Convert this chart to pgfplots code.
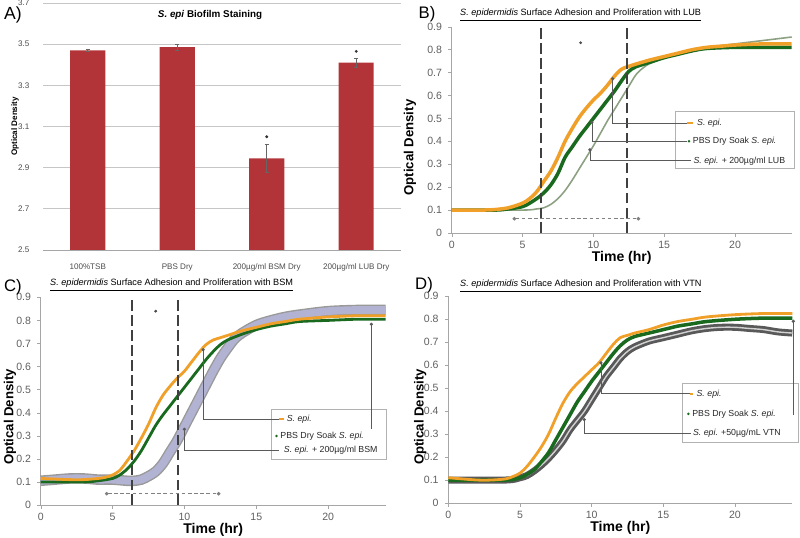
\documentclass[border=0pt]{standalone}
\usepackage{pgfplots}
\pgfplotsset{compat=1.18}
\usetikzlibrary{arrows.meta}
\usepackage{fontspec}
\setmainfont{Liberation Sans}

\definecolor{barred}{RGB}{178,52,56}
\definecolor{sorange}{RGB}{240,160,40}
\definecolor{dgreen}{RGB}{25,105,30}
\definecolor{lubgreen}{RGB}{140,160,130}
\definecolor{bsmfill}{RGB}{178,178,210}
\definecolor{tickgray}{RGB}{95,95,95}
\definecolor{callout}{RGB}{90,90,90}

\pgfplotsset{
  growth/.style={
    scale only axis, anchor=south west, clip=false,
    xmin=0, xmax=24, ymin=0, ymax=0.9,
    axis lines=left, axis line style={gray!70,-},
    xtick={0,5,10,15,20},
    ytick={0,0.1,0.2,0.3,0.4,0.5,0.6,0.7,0.8,0.9},
    tick style={gray!70}, tick align=outside, major tick length=2pt,
    /pgf/number format/assume math mode=true,
    yticklabel style={/pgf/number format/fixed, /pgf/number format/precision=1},
    tick label style={font=\fontsize{6}{7}\selectfont, text=tickgray},
    xticklabel style={yshift=1pt},
    xlabel={Time (hr)}, ylabel={Optical Density},
    xlabel style={font=\fontsize{8}{9}\selectfont\bfseries,
                  at={(axis description cs:0.5,-0.122)}, anchor=center},
    ylabel style={font=\fontsize{7.5}{8.5}\selectfont\bfseries, anchor=center},
  },
}
\tikzset{
  legtext/.style={font=\fontsize{5}{6}\selectfont, anchor=west, inner sep=0pt, text=black!85},
  callline/.style={draw=callout, line width=0.5pt},
  vdash/.style={draw=black!75, line width=1.2pt, dash pattern=on 6pt off 2.5pt},
  hdash/.style={draw=gray, line width=0.5pt, dash pattern=on 2pt off 1.5pt,
                {Circle[length=2pt]}-{Circle[length=2pt]}},
}

\begin{document}
\begin{tikzpicture}
\path[use as bounding box] (0,0) rectangle (16cm,10.74cm);

% ---------------- A) biofilm staining ----------------
\begin{axis}[
  at={(0.86cm,5.74cm)}, anchor=south west, scale only axis,
  width=7.16cm, height=4.94cm, clip=false,
  ymin=2.5, ymax=3.7, ytick={2.5,2.7,2.9,3.1,3.3,3.5,3.7},
  xmin=-0.5, xmax=3.5, xtick={0,1,2,3},
  xticklabels={100\%TSB, PBS Dry, 200µg/ml BSM Dry, 200µg/ml LUB Dry},
  minor xtick={-0.5,0.5,1.5,2.5,3.5},
  axis x line=bottom, axis y line=left,
  x axis line style={gray!70,-}, y axis line style={draw=none},
  xtick style={draw=none}, ytick style={draw=none},
  minor tick style={gray!70}, minor tick length=2pt, tick align=outside,
  ymajorgrids, grid style={gray!45, line width=0.5pt},
  /pgf/number format/assume math mode=true,
  yticklabel style={/pgf/number format/fixed, /pgf/number format/precision=1,
                    /pgf/number format/fixed zerofill},
  tick label style={font=\fontsize{4.6}{5.5}\selectfont, text=black!70},
  ylabel={Optical Density},
  ylabel style={font=\fontsize{4.6}{5.5}\selectfont\bfseries,
                at={(axis description cs:-0.078,0.5)}, anchor=center},
]
\addplot[ybar, bar width=0.7cm, fill=barred, draw=none,
  error bars/.cd, y dir=both, y explicit,
  error bar style={black!60, line width=0.6pt},
  error mark options={black!60, mark size=1pt, rotate=90}]
  coordinates {
    (0,3.470) +- (0,0.004)
    (1,3.485) +- (0,0.015)
    (2,2.945) +- (0,0.070)
    (3,3.410) +- (0,0.022)
  };
\addplot[only marks, mark=*, mark size=0.6pt, black!80]
  coordinates {(2,3.05) (3,3.465)};
\end{axis}
\node[font=\fontsize{10}{11}\selectfont] at (0.26cm,10.44cm) {A)};
\node[font=\fontsize{5.6}{6.5}\selectfont\bfseries] at (4.2cm,10.44cm)
  {\textit{S. epi} Biofilm Staining};

% ---------------- B) LUB ----------------
\begin{axis}[growth, at={(9.034cm,6.08cm)}, width=6.8cm, height=4.126cm,
  ylabel style={at={(axis description cs:-0.123,0.414)}}]
\addplot[lubgreen, line width=0.9pt, smooth] coordinates {
  (0,0.10)(5,0.10)(6,0.105)(6.5,0.11)(7,0.125)(7.5,0.15)(8,0.185)(8.5,0.23)
  (9,0.28)(9.5,0.33)(10,0.38)(10.5,0.435)(11,0.49)(11.5,0.54)(12,0.59)
  (12.5,0.64)(13,0.69)(13.5,0.72)(14,0.74)(15,0.765)(16,0.785)(17,0.80)
  (18,0.81)(20,0.825)(22,0.84)(24,0.855)};
\addplot[dgreen, line width=2pt, smooth] coordinates {
  (0,0.10)(3,0.10)(4,0.105)(5,0.115)(5.5,0.13)(6,0.15)(6.5,0.175)(7,0.21)
  (7.5,0.26)(8,0.33)(8.5,0.375)(9,0.42)(9.5,0.46)(10,0.50)(10.5,0.54)
  (11,0.58)(11.5,0.62)(12,0.665)(12.5,0.705)(13,0.725)(14,0.745)(15,0.765)
  (16,0.78)(17,0.795)(18,0.805)(20,0.81)(22,0.81)(24,0.81)};
\addplot[sorange, line width=2pt, smooth] coordinates {
  (0,0.10)(2,0.10)(3,0.102)(4,0.11)(5,0.13)(5.5,0.15)(6,0.18)(6.5,0.225)
  (7,0.27)(7.5,0.33)(8,0.40)(8.5,0.455)(9,0.505)(9.5,0.545)(10,0.58)
  (10.5,0.61)(11,0.645)(11.5,0.685)(12,0.715)(12.5,0.727)(13,0.737)
  (14,0.755)(15,0.77)(16,0.785)(17,0.80)(18,0.81)(19,0.815)(20,0.82)
  (22,0.825)(24,0.825)};
\addplot[only marks, mark=*, mark size=0.6pt, black!70] coordinates {(9.1,0.83)};
\draw[vdash] (axis cs:6.3,0) -- (axis cs:6.3,0.9);
\draw[vdash] (axis cs:12.4,0) -- (axis cs:12.4,0.9);
\draw[hdash] (axis cs:4.3,0.062) -- (axis cs:13.3,0.062);
\draw[gray!60] (axis cs:15.8,0.283) rectangle (axis cs:24.2,0.53);
\draw[callline, {Circle[length=1.8pt]}-] (axis cs:11.36,0.68) |- (axis cs:16.6,0.48);
\draw[callline, {Circle[length=1.8pt]}-] (axis cs:9.9,0.49) |- (axis cs:16.6,0.40);
\draw[callline, {Circle[length=1.8pt]}-] (axis cs:9.76,0.37) |- (axis cs:16.9,0.315);
\draw[sorange, line width=1.2pt] (axis cs:16.6,0.48) -- (axis cs:17.0,0.48);
\fill[dgreen] (axis cs:16.75,0.40) circle (0.8pt);
\node[legtext] at (axis cs:17.3,0.48) {\textit{S. epi.}};
\node[legtext] at (axis cs:17.0,0.40) {PBS Dry Soak \textit{S. epi.}};
\node[legtext] at (axis cs:17.05,0.315) {\textit{S. epi.} + 200µg/ml LUB};
\end{axis}
\node[font=\fontsize{9.5}{10}\selectfont] at (8.54cm,10.45cm) {B)};
\node[font=\fontsize{5.2}{6}\selectfont, anchor=west] at (9.08cm,10.44cm)
  {\underline{\textit{S. epidermidis} Surface Adhesion and Proliferation with LUB}};

% ---------------- C) BSM ----------------
\begin{axis}[growth, at={(0.814cm,0.64cm)}, width=6.9cm, height=4.154cm,
  ylabel style={at={(axis description cs:-0.089,0.424)}}]
\addplot[gray!80, line width=6pt, smooth] coordinates {
  (0,0.105)(1,0.11)(2,0.115)(3,0.115)(4,0.11)(5,0.11)(6,0.105)(6.5,0.105)
  (7,0.11)(7.5,0.125)(8,0.145)(8.5,0.18)(9,0.23)(9.5,0.28)(10,0.34)
  (10.5,0.40)(11,0.46)(11.5,0.52)(12,0.58)(12.5,0.635)(13,0.68)(13.5,0.72)
  (14,0.745)(15,0.78)(16,0.80)(17,0.815)(18,0.825)(20,0.84)(22,0.845)(24,0.845)};
\addplot[bsmfill, line width=4.4pt, smooth] coordinates {
  (0,0.105)(1,0.11)(2,0.115)(3,0.115)(4,0.11)(5,0.11)(6,0.105)(6.5,0.105)
  (7,0.11)(7.5,0.125)(8,0.145)(8.5,0.18)(9,0.23)(9.5,0.28)(10,0.34)
  (10.5,0.40)(11,0.46)(11.5,0.52)(12,0.58)(12.5,0.635)(13,0.68)(13.5,0.72)
  (14,0.745)(15,0.78)(16,0.80)(17,0.815)(18,0.825)(20,0.84)(22,0.845)(24,0.845)};
\addplot[dgreen, line width=1.6pt, smooth] coordinates {
  (0,0.10)(3,0.10)(4,0.105)(5,0.115)(5.5,0.13)(6,0.155)(6.5,0.19)(7,0.235)
  (7.5,0.29)(8,0.345)(8.5,0.39)(9,0.43)(9.5,0.47)(10,0.51)(10.5,0.55)
  (11,0.59)(11.5,0.63)(12,0.665)(12.5,0.695)(13,0.715)(14,0.74)(15,0.76)
  (16,0.775)(17,0.785)(18,0.795)(20,0.80)(22,0.805)(24,0.805)};
\addplot[sorange, line width=1.6pt, smooth] coordinates {
  (0,0.115)(2,0.11)(3,0.11)(4,0.115)(4.5,0.12)(5,0.13)(5.5,0.15)(6,0.19)
  (6.5,0.235)(7,0.29)(7.5,0.35)(8,0.42)(8.5,0.475)(9,0.515)(9.5,0.55)
  (10,0.58)(10.5,0.62)(11,0.66)(11.5,0.695)(12,0.715)(12.5,0.725)(13,0.735)
  (14,0.755)(15,0.77)(16,0.785)(17,0.795)(18,0.805)(20,0.815)(22,0.82)(24,0.82)};
\addplot[only marks, mark=*, mark size=0.6pt, black!70] coordinates {(8.0,0.84)};
\draw[vdash] (axis cs:6.37,0) -- (axis cs:6.37,0.9);
\draw[vdash] (axis cs:9.55,0) -- (axis cs:9.55,0.9);
\draw[hdash] (axis cs:4.47,0.049) -- (axis cs:12.5,0.049);
\draw[gray!60] (axis cs:16.06,0.198) rectangle (axis cs:24.05,0.414);
\draw[callline, {Circle[length=1.8pt]}-] (axis cs:11.3,0.68) |- (axis cs:16.6,0.372);
\draw[callline, {Circle[length=1.8pt]}-] (axis cs:23.0,0.79) -- (axis cs:23.0,0.33);
\draw[callline, {Circle[length=1.8pt]}-] (axis cs:10.0,0.335) |- (axis cs:16.6,0.237);
\draw[sorange, line width=1.2pt] (axis cs:16.6,0.372) -- (axis cs:16.9,0.372);
\fill[dgreen] (axis cs:16.4,0.299) circle (0.8pt);
\node[legtext] at (axis cs:17.1,0.372) {\textit{S. epi.}};
\node[legtext] at (axis cs:16.65,0.299) {PBS Dry Soak \textit{S. epi.}};
\node[legtext] at (axis cs:16.9,0.237) {\textit{S. epi.} + 200µg/ml BSM};
\end{axis}
\node[font=\fontsize{9.5}{10}\selectfont] at (0.26cm,5.0cm) {C)};
\node[font=\fontsize{5.2}{6}\selectfont, anchor=west] at (0.88cm,5.04cm)
  {\underline{\textit{S. epidermidis} Surface Adhesion and Proliferation with BSM}};

% ---------------- D) VTN ----------------
\begin{axis}[growth, at={(8.966cm,0.68cm)}, width=6.88cm, height=4.134cm,
  ylabel style={at={(axis description cs:-0.082,0.416)}}]
\addplot[black!65, line width=4pt, smooth] coordinates {
  (0,0.10)(4,0.10)(5,0.11)(5.5,0.12)(6,0.14)(6.5,0.165)(7,0.195)(7.5,0.23)
  (8,0.27)(8.5,0.32)(9,0.36)(9.5,0.40)(10,0.45)(10.5,0.50)(11,0.55)
  (11.5,0.59)(12,0.63)(12.5,0.66)(13,0.68)(14,0.705)(15,0.72)(16,0.735)
  (17,0.75)(18,0.76)(19,0.765)(20,0.765)(21,0.76)(22,0.755)(23,0.745)(24,0.74)};
\addplot[gray!35, line width=0.8pt, smooth] coordinates {
  (0,0.10)(4,0.10)(5,0.11)(5.5,0.12)(6,0.14)(6.5,0.165)(7,0.195)(7.5,0.23)
  (8,0.27)(8.5,0.32)(9,0.36)(9.5,0.40)(10,0.45)(10.5,0.50)(11,0.55)
  (11.5,0.59)(12,0.63)(12.5,0.66)(13,0.68)(14,0.705)(15,0.72)(16,0.735)
  (17,0.75)(18,0.76)(19,0.765)(20,0.765)(21,0.76)(22,0.755)(23,0.745)(24,0.74)};
\addplot[dgreen, line width=2pt, smooth] coordinates {
  (0,0.10)(4,0.10)(5,0.11)(5.5,0.125)(6,0.145)(6.5,0.18)(7,0.22)(7.5,0.275)
  (8,0.33)(8.5,0.385)(9,0.44)(9.5,0.485)(10,0.53)(10.5,0.57)(11,0.61)
  (11.5,0.65)(12,0.685)(12.5,0.71)(13,0.725)(14,0.74)(15,0.755)(16,0.77)
  (17,0.78)(18,0.79)(20,0.80)(22,0.805)(24,0.805)};
\addplot[sorange, line width=1.6pt, smooth] coordinates {
  (0,0.11)(2,0.10)(3,0.10)(4,0.105)(4.5,0.115)(5,0.13)(5.5,0.16)(6,0.20)
  (6.5,0.245)(7,0.30)(7.5,0.37)(8,0.435)(8.5,0.485)(9,0.52)(9.5,0.55)
  (10,0.58)(10.5,0.61)(11,0.65)(11.5,0.69)(12,0.72)(12.5,0.73)(13,0.74)
  (14,0.755)(15,0.775)(16,0.79)(17,0.80)(18,0.81)(20,0.82)(22,0.825)(24,0.825)};
\draw[gray!60] (axis cs:16.35,0.264) rectangle (axis cs:24.4,0.52);
\draw[callline, {Circle[length=1.8pt]}-] (axis cs:10.65,0.617) |- (axis cs:16.85,0.475);
\draw[callline, {Circle[length=1.8pt]}-] (axis cs:24.07,0.798) -- (axis cs:24.07,0.385);
\draw[callline, {Circle[length=1.8pt]}-] (axis cs:9.49,0.37) |- (axis cs:16.9,0.305);
\draw[sorange, line width=1.2pt] (axis cs:16.85,0.475) -- (axis cs:17.1,0.475);
\fill[dgreen] (axis cs:16.75,0.388) circle (0.8pt);
\node[legtext] at (axis cs:17.3,0.475) {\textit{S. epi.}};
\node[legtext] at (axis cs:17.0,0.388) {PBS Dry Soak \textit{S. epi.}};
\node[legtext] at (axis cs:17.05,0.305) {\textit{S. epi.} +50µg/mL VTN};
\end{axis}
\node[font=\fontsize{9.5}{10}\selectfont] at (8.48cm,5.04cm) {D)};
\node[font=\fontsize{5.2}{6}\selectfont, anchor=west] at (9.08cm,5.02cm)
  {\underline{\textit{S. epidermidis} Surface Adhesion and Proliferation with VTN}};
\end{tikzpicture}
\end{document}
